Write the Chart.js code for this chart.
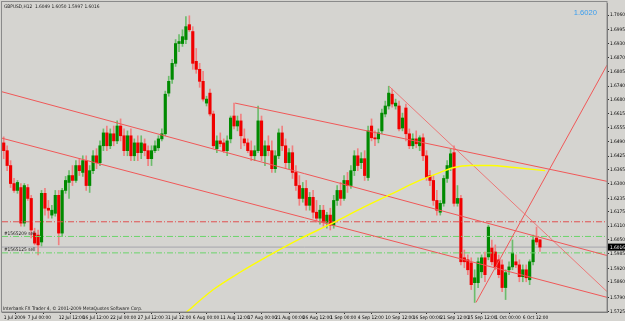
<!DOCTYPE html>
<html><head><meta charset="utf-8">
<script src="https://cdn.jsdelivr.net/npm/chart.js@4/dist/chart.umd.min.js"></script>
<style>html,body{margin:0;padding:0;background:#d5d4d0;overflow:hidden}</style>
</head><body>
<canvas id="c" width="625" height="321"></canvas>
<script>
// ---- DATA (GBPUSD, H12 bars) ----
const open = [1.6485,1.6450,1.6383,1.6302,1.6271,1.6284,1.6124,1.6284,1.6235,1.6079,1.6070,1.6039,1.6258,1.6191,1.6160,1.6168,1.6249,1.6079,1.6271,1.6307,
1.6338,1.6316,1.6383,1.6352,1.6405,1.6293,1.6360,1.6427,1.6396,1.6472,1.6530,1.6472,1.6526,1.6494,1.6561,1.6517,1.6450,1.6517,1.6427,1.6485,
1.6441,1.6481,1.6450,1.6414,1.6450,1.6463,1.6503,1.6526,1.6709,1.6771,1.6843,1.6932,1.6932,1.6950,1.7017,1.6986,1.6852,1.6816,1.6762,1.6664,
1.6709,1.6615,1.6459,1.6494,1.6485,1.6450,1.6503,1.6606,1.6561,1.6584,1.6503,1.6485,1.6450,1.6427,1.6450,1.6584,1.6427,1.6472,1.6450,1.6369,
1.6427,1.6530,1.6472,1.6396,1.6441,1.6352,1.6293,1.6235,1.6280,1.6204,1.6240,1.6173,1.6146,1.6182,1.6128,1.6160,1.6115,1.6226,1.6271,1.6235,
1.6316,1.6293,1.6360,1.6427,1.6396,1.6414,1.6329,1.6561,1.6508,1.6503,1.6539,1.6615,1.6651,1.6704,1.6651,1.6651,1.6552,1.6642,1.6526,1.6472,
1.6503,1.6472,1.6508,1.6427,1.6338,1.6316,1.6226,1.6173,1.6213,1.6325,1.6374,1.6441,1.6213,1.6235,1.5968,1.5959,1.5945,1.5856,1.5856,1.5905,
1.5968,1.5972,1.6012,1.5994,1.5959,1.5936,1.5834,1.5914,1.5927,1.5950,1.5936,1.5883,1.5914,1.5869,1.5950,1.6057,1.6049];
const high = [1.6512,1.6472,1.6405,1.6325,1.6316,1.6302,1.6302,1.6298,1.6249,1.6101,1.6093,1.6271,1.6280,1.6226,1.6204,1.6271,1.6271,1.6280,1.6334,1.6360,
1.6383,1.6405,1.6414,1.6427,1.6427,1.6383,1.6450,1.6459,1.6494,1.6548,1.6561,1.6548,1.6561,1.6584,1.6593,1.6548,1.6539,1.6548,1.6503,1.6517,
1.6517,1.6503,1.6472,1.6472,1.6494,1.6517,1.6548,1.6718,1.6785,1.6861,1.6950,1.6972,1.6994,1.7053,1.7057,1.7008,1.6910,1.6843,1.6807,1.6695,
1.6727,1.6628,1.6517,1.6530,1.6503,1.6517,1.6606,1.6664,1.6606,1.6615,1.6548,1.6503,1.6494,1.6472,1.6651,1.6606,1.6494,1.6517,1.6494,1.6450,
1.6548,1.6561,1.6503,1.6459,1.6472,1.6383,1.6338,1.6307,1.6316,1.6262,1.6271,1.6226,1.6204,1.6204,1.6173,1.6191,1.6249,1.6293,1.6307,1.6338,
1.6352,1.6383,1.6450,1.6459,1.6441,1.6450,1.6561,1.6593,1.6539,1.6548,1.6637,1.6673,1.6740,1.6727,1.6682,1.6673,1.6619,1.6660,1.6548,1.6526,
1.6539,1.6517,1.6526,1.6450,1.6360,1.6338,1.6271,1.6226,1.6338,1.6405,1.6459,1.6472,1.6293,1.6249,1.6003,1.5981,1.5968,1.5914,1.5968,1.5981,
1.5994,1.6115,1.6048,1.6026,1.5981,1.5959,1.5914,1.5950,1.6048,1.5981,1.5959,1.5936,1.5936,1.5959,1.6070,1.6106,1.6050];
const low = [1.6414,1.6360,1.6284,1.6262,1.6258,1.6110,1.6110,1.6226,1.6057,1.6026,1.5981,1.6021,1.6160,1.6146,1.6146,1.6155,1.6026,1.6066,1.6258,1.6235,
1.6293,1.6307,1.6338,1.6334,1.6271,1.6262,1.6347,1.6369,1.6383,1.6450,1.6450,1.6459,1.6472,1.6481,1.6494,1.6427,1.6427,1.6405,1.6405,1.6405,
1.6414,1.6427,1.6383,1.6383,1.6441,1.6450,1.6494,1.6517,1.6695,1.6753,1.6829,1.6896,1.6919,1.6932,1.6986,1.6816,1.6798,1.6735,1.6673,1.6651,
1.6606,1.6463,1.6441,1.6468,1.6441,1.6427,1.6485,1.6548,1.6539,1.6459,1.6472,1.6441,1.6405,1.6405,1.6441,1.6405,1.6383,1.6427,1.6352,1.6352,
1.6414,1.6450,1.6369,1.6369,1.6325,1.6271,1.6204,1.6218,1.6182,1.6182,1.6146,1.6128,1.6119,1.6110,1.6101,1.6093,1.6101,1.6204,1.6204,1.6226,
1.6262,1.6280,1.6338,1.6360,1.6369,1.6316,1.6316,1.6494,1.6472,1.6485,1.6526,1.6602,1.6637,1.6646,1.6637,1.6539,1.6539,1.6494,1.6459,1.6459,
1.6463,1.6450,1.6405,1.6316,1.6293,1.6204,1.6160,1.6160,1.6200,1.6307,1.6360,1.6200,1.6200,1.5936,1.5923,1.5892,1.5825,1.5767,1.5834,1.5878,
1.5860,1.5959,1.5936,1.5914,1.5878,1.5816,1.5780,1.5892,1.5914,1.5923,1.5860,1.5860,1.5860,1.5847,1.5936,1.6026,1.5997];
const close = [1.6450,1.6383,1.6302,1.6271,1.6307,1.6124,1.6293,1.6235,1.6093,1.6034,1.6026,1.6258,1.6191,1.6182,1.6182,1.6249,1.6079,1.6271,1.6316,1.6338,
1.6316,1.6383,1.6360,1.6405,1.6293,1.6360,1.6427,1.6396,1.6472,1.6530,1.6472,1.6526,1.6494,1.6561,1.6517,1.6450,1.6517,1.6427,1.6485,1.6441,
1.6485,1.6450,1.6414,1.6450,1.6472,1.6503,1.6526,1.6704,1.6762,1.6843,1.6932,1.6941,1.6963,1.7008,1.6994,1.6843,1.6816,1.6762,1.6682,1.6682,
1.6615,1.6472,1.6494,1.6481,1.6450,1.6494,1.6597,1.6561,1.6584,1.6517,1.6485,1.6450,1.6427,1.6450,1.6584,1.6427,1.6472,1.6450,1.6369,1.6427,
1.6530,1.6472,1.6396,1.6441,1.6352,1.6293,1.6235,1.6280,1.6204,1.6240,1.6173,1.6146,1.6182,1.6128,1.6160,1.6115,1.6226,1.6271,1.6235,1.6316,
1.6293,1.6360,1.6427,1.6383,1.6414,1.6338,1.6539,1.6508,1.6503,1.6530,1.6619,1.6651,1.6709,1.6660,1.6664,1.6548,1.6597,1.6526,1.6472,1.6503,
1.6481,1.6508,1.6427,1.6329,1.6316,1.6226,1.6182,1.6213,1.6325,1.6383,1.6436,1.6213,1.6235,1.5950,1.5950,1.5914,1.5847,1.5878,1.5950,1.5968,
1.5892,1.6106,1.5950,1.5927,1.5892,1.5834,1.5901,1.5927,1.5990,1.5936,1.5883,1.5914,1.5878,1.5950,1.6048,1.6039,1.6016];

// x-axis (bar index) tick positions and labels
const xTickIndex  = [0,7,16,23,31,39,47,55,63,71,79,87,95,103,111,119,127,135,143,151];
const xTickLabels = ['1 Jul 2009','7 Jul 00:00','12 Jul 12:00','16 Jul 12:00','22 Jul 00:00','27 Jul 12:00','31 Jul 12:00','6 Aug 00:00','11 Aug 12:00','17 Aug 00:00','21 Aug 00:00','26 Aug 12:00','1 Sep 00:00','4 Sep 12:00','10 Sep 12:00','16 Sep 00:00','21 Sep 12:00','25 Sep 12:00','1 Oct 00:00','6 Oct 12:00'];
// price axis labels
const yTicks = [1.5725,1.5790,1.5860,1.5920,1.5985,1.6050,1.6110,1.6175,1.6235,1.6300,1.6365,1.6425,1.6490,1.6555,1.6615,1.6680,1.6740,1.6805,1.6870,1.6930,1.6995,1.7060];

// yellow indicator curve (read points: bar index, price)
const maIndex = [52,61,69,77.5,86,95,103.5,112.5,121,127,131,135.5,141.5,148.5,157.5];
const maValue = [1.5708,1.5825,1.5905,1.5981,1.6052,1.6119,1.6186,1.6253,1.6316,1.6352,1.6374,1.6383,1.6383,1.6374,1.6360];

// trend lines: [startIndex, startPrice, endIndex, endPrice]
const channelLine1 = [-0.5,1.6715,175.5,1.5978];
const channelLine2 = [-0.5,1.6506,175.5,1.5790];
const channelLine3 = [67.3,1.6664,175.5,1.6312];
const peakLine     = [112.1,1.6740,175.5,1.5816];
const riseLine     = [137.4,1.5767,175.5,1.6835];

// order levels
const stopLevel = 1.6130;
const sellLevels = [1.6064,1.5990];
const sellLabels = ['#1565209 sell','#1565125 sell'];
const bidPrice = 1.6016;
const headerText = 'GBPUSD,H12  1.6049 1.6050 1.5997 1.6016';
const bigPriceText = '1.6020';
const footerText = 'Interbank FX Trader 4, \u00A9 2001-2009 MetaQuotes Software Corp.';

// ---- build ----
const xMin = -0.5, xMax = 175.5, yMin = 1.5724, yMax = 1.71105;
const FONT = '"Liberation Sans Narrow", "DejaVu Sans Condensed", "Liberation Sans", Arial, sans-serif';
const up = open.map((o,i)=>close[i] >= o);
const bodies = open.map((o,i)=>({x:i, y:[o, close[i]]}));
const wicks = open.map((o,i)=>({x:i, y:[low[i], high[i]]}));
const seg = (a)=>[{x:a[0],y:a[1]},{x:a[2],y:a[3]}];
const hline = (p)=>[{x:xMin,y:p},{x:xMax,y:p}];
const lineDs = (data, color, extra)=>Object.assign({type:'line', data, borderColor:color, borderWidth:1, pointRadius:0, fill:false, order:0, tension:0}, extra||{});

const overlay = {
  id:'overlay',
  beforeDraw(chart){
    const c = chart.ctx; c.save(); c.fillStyle='#d5d4d0'; c.fillRect(0,0,chart.width,chart.height); c.restore();
  },
  afterDraw(chart){
    const c = chart.ctx, a = chart.chartArea, y = chart.scales.y;
    c.save();
    c.strokeStyle='#8a8a8a'; c.lineWidth=1;
    c.strokeRect(1.5,1.5,a.right-1.5,a.bottom-1.5);
    c.fillStyle='#1a1a1a'; c.font='4.8px '+FONT; c.textBaseline='alphabetic'; c.textAlign='left';
    c.fillText(headerText, 4, 8);
    c.fillText(footerText, 3, 310);
    sellLevels.forEach((p,i)=>{ c.fillText(sellLabels[i], 4, y.getPixelForValue(p)-1.5); });
    c.fillStyle='#3a9ef0'; c.font='7.6px "Liberation Sans", Arial, sans-serif'; c.textAlign='right';
    c.fillText(bigPriceText, 597, 15);
    const yb = y.getPixelForValue(bidPrice);
    c.fillStyle='#000'; c.fillRect(608, yb-3.5, 17, 7);
    c.fillStyle='#fff'; c.font='4.8px '+FONT; c.textAlign='left'; c.textBaseline='middle';
    c.fillText(bidPrice.toFixed(4), 610, yb+0.3);
    c.restore();
  }
};

new Chart(document.getElementById('c'), {
  type:'bar',
  data:{datasets:[
    lineDs(maIndex.map((x,i)=>({x, y:maValue[i]})), '#ffff00', {borderWidth:1.4, tension:0.4, cubicInterpolationMode:'monotone'}),
    lineDs(seg(channelLine1), '#f05858'),
    lineDs(seg(channelLine2), '#f05858'),
    lineDs(seg(channelLine3), '#f05858'),
    lineDs(seg(peakLine), '#ec7878'),
    lineDs(seg(riseLine), '#f05858'),
    lineDs(hline(stopLevel), '#e05050', {borderDash:[6,2,1,2]}),
    lineDs(hline(sellLevels[0]), '#6ad46a', {borderDash:[6,2,1,2]}),
    lineDs(hline(sellLevels[1]), '#6ad46a', {borderDash:[6,2,1,2]}),
    lineDs(hline(bidPrice), '#a4a4ac', {order:3}),
    {type:'bar', data:bodies, backgroundColor:up.map(u=>u?'#008a00':'#f00000'), barThickness:2.5, grouped:false, order:1},
    {type:'bar', data:wicks, backgroundColor:up.map(u=>u?'#6cbc6c':'#f08080'), barThickness:1, grouped:false, order:2}
  ]},
  options:{
    responsive:false, animation:false, devicePixelRatio:1,
    layout:{padding:{left:2, top:2, right:0, bottom:0}},
    plugins:{legend:{display:false}, tooltip:{enabled:false}},
    scales:{
      x:{type:'linear', min:xMin, max:xMax, offset:false,
        grid:{drawOnChartArea:false, drawTicks:true, tickLength:2, color:'#303030'},
        border:{display:true, color:'#707070'},
        ticks:{autoSkip:false, maxRotation:0, minRotation:0, align:'start', padding:1, color:'#000', font:{size:4.8, family:FONT},
          callback:(v)=>{const k=xTickIndex.indexOf(v); return k>=0?xTickLabels[k]:'';}},
        afterBuildTicks:(s)=>{ s.ticks = xTickIndex.map(v=>({value:v})); },
        afterFit:(s)=>{ s.height = 9; }
      },
      y:{type:'linear', position:'right', min:yMin, max:yMax,
        grid:{drawOnChartArea:false, drawTicks:true, tickLength:2, color:'#303030'},
        border:{display:true, color:'#707070'},
        ticks:{padding:1, color:'#000', font:{size:4.8, family:FONT}, callback:(v)=>v.toFixed(4)},
        afterBuildTicks:(s)=>{ s.ticks = yTicks.map(v=>({value:v})); },
        afterFit:(s)=>{ s.width = 18; }
      }
    }
  },
  plugins:[overlay]
});
</script>
</body></html>
